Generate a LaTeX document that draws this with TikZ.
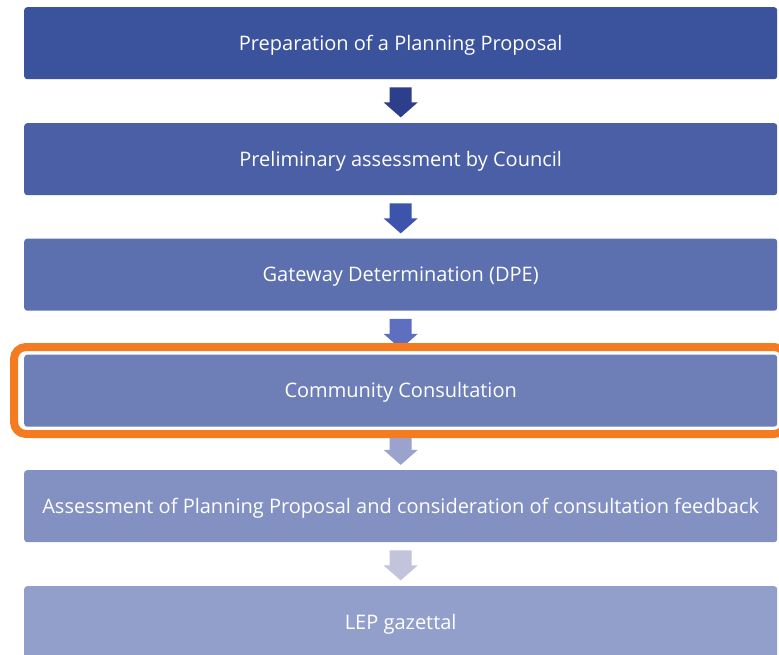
\documentclass[tikz,border=0pt]{standalone}
\usepackage{fontspec}
\setmainfont{Open Sans}
\definecolor{b1}{HTML}{3B529C}
\definecolor{b2}{HTML}{4A5FA5}
\definecolor{b3}{HTML}{5C6FAE}
\definecolor{b4}{HTML}{6E7FB7}
\definecolor{b5}{HTML}{8390C2}
\definecolor{b6}{HTML}{939FCB}
\definecolor{a1}{HTML}{2C3E8C}
\definecolor{a2}{HTML}{3D54AC}
\definecolor{a3}{HTML}{5F6FBF}
\definecolor{a4}{HTML}{9AA2CE}
\definecolor{a5}{HTML}{C1C4DB}
\definecolor{orng}{HTML}{F47B20}
\tikzset{
  stepbox/.style={draw=none, rounded corners=3pt, minimum width=753pt, minimum height=72pt,
    inner sep=0pt, text=white, font=\fontsize{20}{23}\selectfont, anchor=north west,
    text height=16pt, text depth=2pt},
}
% block arrow hanging below the south anchor of a node
\newcommand{\dnarrow}[2]{% colour, node name
  \begin{scope}[shift={(#2.south)}]
  \fill[#1] (-11,-8) -- (11,-8) -- (11,-23) -- (17,-23) -- (0,-38) -- (-17,-23) -- (-11,-23) -- cycle;
  \end{scope}}
\begin{document}
\begin{tikzpicture}[x=1pt,y=1pt]
\useasboundingbox (0,0) rectangle (779,-655);
\fill[white] (0,0) rectangle (779,-655);
\node[stepbox, fill=b1] (s1) at (24,-7) {Preparation of a Planning Proposal};
\node[stepbox, fill=b2] (s2) at (24,-123) {Preliminary assessment by Council};
\node[stepbox, fill=b3] (s3) at (24,-238.5) {Gateway Determination (DPE)};
\node[stepbox, fill=b4] (s4) at (24,-354.5) {Community Consultation};
\node[stepbox, fill=b5] (s5) at (24,-470) {Assessment of Planning Proposal and consideration of consultation feedback};
\node[stepbox, fill=b6] (s6) at (24,-586) {LEP gazettal};
\dnarrow{a1}{s1}
\dnarrow{a2}{s2}
\dnarrow{a3}{s3}
\dnarrow{a4}{s4}
\dnarrow{a5}{s5}
\draw[orng, line width=8pt, rounded corners=12pt] (14,-347) rectangle (786,-434);
\end{tikzpicture}
\end{document}
